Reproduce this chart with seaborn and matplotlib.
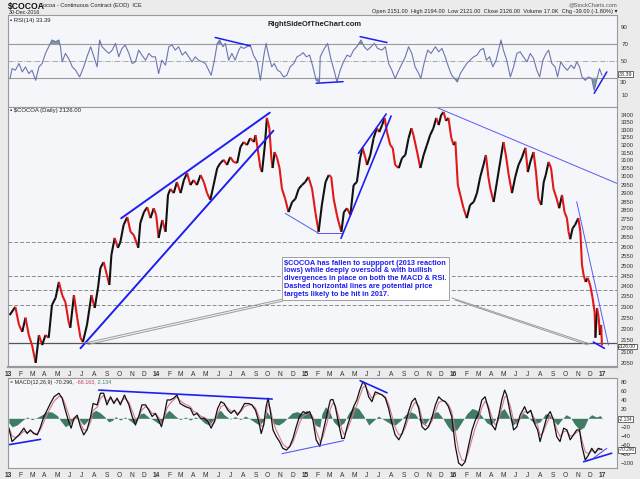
import numpy as np
import pandas as pd
import matplotlib
matplotlib.use('Agg')
import matplotlib.pyplot as plt
from matplotlib.collections import LineCollection
import seaborn as sns

# %%
# data (day = days since 2013-01-01)
price_day = [4, 18, 27, 35, 43, 51, 59, 68, 76, 84, 92, 100, 108, 117, 125, 133, 141, 149, 153, 162,
             170, 178, 184, 194, 205, 213, 221, 227, 235, 243, 249, 254, 262, 270, 276, 284, 293, 301, 309, 320,
             325, 334, 342, 350, 358, 364, 370, 379, 387, 393, 399, 407, 415, 424, 432, 440, 448, 456, 464, 473,
             481, 489, 497, 505, 514, 522, 530, 538, 546, 554, 563, 571, 579, 587, 595, 604, 608, 612, 620, 624,
             631, 636, 642, 647, 650, 655, 661, 667, 673, 681, 689, 698, 706, 714, 722, 730, 738, 747, 755, 763,
             771, 780, 788, 794, 800, 808, 812, 819, 825, 833, 841, 849, 857, 865, 871, 878, 882, 890, 898, 906,
             912, 919, 925, 931, 939, 945, 951, 960, 968, 976, 984, 991, 996, 1005, 1013, 1021, 1029, 1037, 1045, 1052,
             1058, 1064, 1070, 1076, 1082, 1089, 1095, 1099, 1105, 1111, 1119, 1127, 1135, 1144, 1152, 1160, 1168, 1174, 1180, 1185,
             1193, 1201, 1209, 1217, 1223, 1230, 1238, 1246, 1254, 1262, 1271, 1277, 1283, 1291, 1297, 1303, 1310, 1316, 1321, 1328,
             1334, 1340, 1348, 1354, 1361, 1367, 1373, 1377, 1381, 1387, 1393, 1401, 1406, 1410, 1414, 1419, 1424, 1430, 1436, 1441,
             1443, 1447, 1451, 1454, 1457, 1459]
price_close = [2262, 2300, 2217, 2186, 2250, 2172, 2128, 2052, 2172, 2128, 2172, 2160, 2309, 2343, 2420, 2356, 2322, 2230, 2204, 2356,
               2250, 2160, 2141, 2217, 2356, 2295, 2390, 2490, 2520, 2454, 2405, 2557, 2647, 2594, 2625, 2718, 2762, 2680, 2663, 2594,
               2729, 2790, 2818, 2756, 2812, 2773, 2647, 2745, 2680, 2889, 2925, 2900, 2966, 2900, 2978, 3021, 2948, 2978, 2948, 3009,
               2966, 2900, 2860, 2948, 3052, 3084, 3103, 3071, 3121, 3090, 3084, 3186, 3218, 3198, 3243, 3218, 3264, 3198, 3052, 3027,
               3198, 3380, 3310, 3115, 3052, 3153, 3115, 3052, 2925, 2866, 2790, 2848, 2866, 2925, 2948, 2966, 2997, 2925, 2790, 2680,
               2831, 2966, 3009, 2997, 2866, 2773, 2735, 2680, 2790, 2812, 2773, 2948, 2966, 3115, 3180, 3115, 3071, 3134, 3243, 3310,
               3284, 3331, 3380, 3284, 3198, 3180, 3071, 3052, 3115, 3134, 3243, 3310, 3264, 3153, 3052, 3134, 3198, 3264, 3310, 3380,
               3331, 3400, 3421, 3360, 3380, 3243, 3198, 3220, 2948, 2889, 2812, 2756, 2831, 2848, 2900, 2997, 3071, 3134, 2997, 2925,
               2848, 2966, 3090, 3218, 3134, 3009, 2900, 2997, 3071, 3115, 3180, 3027, 3090, 3153, 3027, 2866, 2831, 2966, 3009, 3090,
               3052, 2925, 2866, 2812, 2889, 2790, 2756, 2680, 2640, 2700, 2718, 2756, 2680, 2505, 2454, 2420, 2440, 2405, 2343, 2276,
               2160, 2295, 2250, 2172, 2217, 2126]

rsi_day = [5, 10, 18, 27, 35, 43, 51, 59, 68, 76, 84, 92, 100, 108, 117, 125, 129, 133, 141, 149,
           158, 166, 176, 186, 194, 203, 211, 219, 225, 231, 239, 248, 256, 264, 272, 280, 288, 297, 305, 313,
           321, 329, 338, 346, 354, 362, 370, 378, 387, 395, 403, 411, 419, 428, 436, 444, 452, 460, 468, 477,
           485, 493, 499, 507, 514, 520, 528, 534, 542, 550, 558, 567, 572, 579, 587, 595, 603, 612, 620, 628,
           634, 640, 648, 654, 662, 669, 677, 685, 693, 702, 710, 718, 725, 733, 741, 749, 757, 765,
           767, 775, 785, 793, 802, 808, 816, 824, 833, 841, 849, 857, 867, 875, 883, 892, 900, 908, 919, 927,
           935, 943, 951, 960, 968, 976, 984, 992, 1000, 1009, 1014, 1022, 1031, 1039, 1050, 1058, 1066, 1074, 1082, 1090,
           1104, 1111, 1119, 1127, 1135, 1144, 1152, 1160, 1168, 1175, 1183, 1191, 1199, 1205, 1211, 1217, 1225, 1234, 1242, 1250,
           1258, 1266, 1275, 1283, 1291, 1299, 1306, 1314, 1322, 1328, 1336, 1344, 1350, 1358, 1366, 1374, 1383, 1391, 1397, 1404,
           1410, 1418, 1426, 1434, 1440, 1446, 1453, 1459]
rsi_val = [29, 41, 39, 47, 37, 43, 35, 39, 27, 43, 47, 59, 67, 75, 73, 75, 67, 49, 59, 53,
           43, 39, 31, 43, 55, 67, 55, 43, 75, 67, 63, 59, 63, 71, 55, 65, 69, 59, 47, 49,
           63, 57, 51, 59, 55, 55, 35, 51, 45, 67, 69, 63, 67, 57, 61, 55, 49, 55, 51, 49,
           47, 39, 33, 51, 71, 75, 67, 71, 51, 59, 51, 63, 67, 65, 67, 69, 57, 49, 27, 55,
           71, 57, 43, 47, 39, 37, 31, 33, 43, 47, 55, 57, 60, 55, 57, 43, 27, 25,
           55, 63, 71, 53, 37, 25, 39, 49, 57, 55, 63, 67, 75, 67, 63, 67, 71, 65, 63, 67,
           47, 39, 29, 39, 47, 55, 67, 59, 43, 35, 29, 47, 63, 59, 67, 61, 65, 55, 43, 33,
           25, 35, 41, 47, 51, 55, 57, 63, 65, 51, 55, 43, 51, 63, 75, 63, 51, 31, 43, 59,
           61, 55, 49, 59, 53, 39, 31, 51, 59, 63, 47, 43, 31, 49, 43, 39, 45, 41, 49, 43,
           31, 27, 31, 29, 15, 27, 41, 33]

macd_day = [2, 10, 18, 27, 39, 47, 55, 63, 72, 80, 88, 96, 104, 113, 125, 133, 141, 149, 155, 162,
            170, 178, 186, 194, 203, 209, 219, 227, 235, 243, 252, 260, 268, 276, 286, 297, 305, 313, 321, 329,
            338, 346, 354, 362, 370, 377, 383, 391, 399, 407, 415, 423, 436, 448, 456, 464, 473, 482, 491, 499,
            507, 515, 523, 531, 540, 548, 556, 564, 572, 581, 591, 599, 608, 616, 622, 628, 634, 639, 644, 651,
            659, 667, 675, 684, 692, 700, 708, 716, 725, 733, 741, 749, 757, 766,
            767, 775, 784, 792, 798, 804, 812, 820, 826, 833, 841, 849, 857, 864, 872, 878, 886, 894, 902, 910,
            919, 927, 935, 943, 951, 960, 968, 976, 984, 992, 1000, 1009, 1017, 1025, 1033, 1041, 1050, 1058, 1066, 1074,
            1082, 1090, 1099, 1107, 1115, 1123, 1131, 1140, 1148, 1156, 1164, 1172, 1180, 1189, 1197, 1205, 1213, 1220, 1225, 1234,
            1242, 1250, 1258, 1269, 1276, 1284, 1293, 1301, 1307, 1315, 1324, 1332, 1340, 1348, 1356, 1365, 1373, 1381, 1389, 1397,
            1404, 1410, 1418, 1426, 1434, 1442, 1450, 1459]
macd_val = [-22, -52, -45, -37, -22, -34, -26, -34, -37, -19, 4, 18, 33, 48, 56, 45, 18, -7, -22, 0,
            7, -19, -37, -26, 4, 33, 30, 56, 56, 30, 48, 33, 45, 30, 52, 30, 4, -15, 4, 30,
            30, 18, 4, 11, -4, -19, 4, 41, 41, 45, 52, 33, 26, 22, 7, 11, 0, 0, -7, -22,
            -7, 22, 37, 33, 18, 11, 18, 7, 18, 33, 33, 30, 18, -7, -34, -15, 26, 45, 18, -26,
            -41, -52, -67, -71, -63, -45, -19, 4, 15, 11, 15, -4, -48, -63,
            -59, -26, 11, 41, 42, 26, -11, -45, -45, -19, 4, 26, 41, 63, 82, 74, 48, 37, 59, 56,
            52, 45, 22, -11, -37, -48, -34, -11, 15, 37, 45, 22, -19, -26, -19, 0, 30, 48, 41, 37,
            26, 4, -63, -100, -106, -97, -63, -26, -4, 11, 41, 48, 22, -15, -26, 4, 41, 63, 52, 11,
            -26, -19, 7, 26, 11, 18, -11, -26, -52, -26, 4, 15, -4, -41, -52, -22, -26, -48, -37, -26,
            -26, -63, -93, -82, -67, -78, -67, -70]
signal_val = [-20, -39, -43, -39, -29, -32, -28, -32, -35, -25, -8, 8, 23, 38, 49, 47, 30, 8, -10, -4,
              3, -10, -26, -26, -8, 17, 25, 44, 51, 38, 44, 37, 42, 35, 45, 36, 17, -2, 2, 19,
              26, 21, 11, 11, 2, -11, -2, 24, 34, 41, 48, 39, 31, 26, 15, 13, 5, 2, -3, -14,
              -10, 9, 26, 30, 23, 16, 17, 11, 15, 26, 30, 30, 23, 5, -18, -16, 9, 31, 23, -6,
              -27, -42, -57, -65, -64, -53, -33, -11, 5, 9, 13, 3, -28, -49,
              -55, -38, -9, 21, 34, 29, 5, -25, -37, -26, -8, 12, 29, 49, 69, 72, 58, 45, 53, 55,
              53, 48, 32, 6, -20, -37, -35, -21, 1, 23, 36, 28, 0, -16, -18, -7, 15, 35, 39, 38,
              31, 15, -32, -73, -93, -95, -76, -46, -21, -2, 24, 38, 28, 2, -15, -4, 23, 47, 50, 27,
              -5, -13, -1, 15, 13, 16, 0, -16, -38, -31, -10, 5, 0, -25, -41, -30, -28, -40, -38, -31,
              -28, -49, -75, -79, -72, -76, -71, -68]

hist_day = [2, 10, 22, 35, 47, 59, 72, 84, 96, 108, 121, 129, 141, 153, 162, 170, 178, 186, 196, 204,
            215, 227, 239, 247, 256, 264, 276, 288, 301, 309, 317, 325, 333, 346, 358, 370, 378, 387, 395, 403,
            411, 423, 436, 448, 460, 473, 482, 493, 503, 514, 522, 531, 546, 558, 571, 583, 595, 608, 618, 628,
            636, 643, 653, 665, 677, 687, 698, 710, 722, 734, 744, 755, 766, 771, 780, 790, 800, 812, 825, 837,
            849, 861, 874, 886, 898, 910, 923, 939, 951, 964, 976, 988, 1000, 1013, 1023, 1033, 1045, 1055, 1066, 1078,
            1090, 1103, 1115, 1127, 1140, 1152, 1164, 1176, 1186, 1197, 1209, 1219, 1230, 1240, 1250, 1262, 1273, 1283, 1295, 1307,
            1320, 1330, 1340, 1350, 1360, 1371, 1381, 1391, 1404, 1415, 1426, 1434, 1445, 1455, 1461]
hist_val = [-10, -19, -15, -5, 3, -3, 2, 8, 15, 14, 6, -5, -19, -12, 2, 5, -6, -15, -5, 10,
            18, 12, 2, -8, -5, 4, -4, 3, -6, -12, -4, 10, 12, 2, -4, -12, -8, 10, 18, 12,
            5, -3, 3, -4, 3, -2, -10, -15, -5, 12, 18, 8, -2, 4, -3, 5, -2, -10, -15, -5,
            15, 5, -12, -15, -8, 2, 12, 15, 10, 18, 8, -15, -20, 10, 26, 15, -8, -19, -10, 12,
            26, 22, 5, -15, -5, 5, -3, -12, -15, -5, 8, 15, 10, -8, -15, -3, 12, 15, 3, -15,
            -30, -25, -8, 10, 22, 18, 5, -10, -15, -3, 15, 22, 5, -15, -8, 12, 8, -3, -12, -8,
            10, 8, -5, -15, -3, 8, 3, -12, -26, -20, 2, 8, 3, 6, -2]

# horizontal levels on the price panel
support_level = 2137
target_levels = [2625, 2450, 2380, 2310]

# blue trendlines: (days, values, width)
price_lines = [([278, 643], [2755, 3416], 1.4), ([178, 652], [2114, 3293], 1.4),
               ([681, 763], [2783, 2672], 0.7), ([759, 820], [2672, 2672], 0.7),
               ([818, 941], [2645, 3393], 1.2), ([861, 929], [3145, 3407], 1.2),
               ([1052, 1496], [3454, 2958], 0.7), ([1397, 1475], [2850, 2128], 0.7),
               ([1438, 1465], [2141, 2114], 1.2)]
rsi_lines = [([509, 595], [78, 68]), ([757, 823], [23.5, 25.4]),
             ([865, 931], [79, 72]), ([1440, 1471], [11.5, 37])]
macd_lines = [([2, 80], [-59, -47], 1.2), ([223, 649], [63, 43], 1.2),
              ([673, 824], [-79, -50], 0.8), ([865, 931], [84, 57], 1.2),
              ([1414, 1483], [-97, -78], 1.2), ([1438, 1471], [-89, -67], 0.8)]

note = ('$COCOA has fallen to suppport (2013 reaction\n'
        'lows) while deeply oversold & with bullish\n'
        'divergences in place on both the MACD & RSI.\n'
        'Dashed horizontal lines are potential price\n'
        'targets likely to be hit in 2017.')

# %%
sns.set_style('white')
plt.rcParams['font.family'] = ['Liberation Sans', 'DejaVu Sans']

bg = '#ebebeb'
panel = '#f5f6fa'
blue = '#1e1ef0'

fig = plt.figure(figsize=(6.4, 4.79), dpi=100, facecolor=bg)
W, H = 640, 479


def box(top, bottom):
    return [8 / W, 1 - bottom / H, 609 / W, (bottom - top) / H]


ax_rsi = fig.add_axes(box(15, 107))
ax_px = fig.add_axes(box(107, 367))
ax_macd = fig.add_axes(box(378, 468))

months = pd.date_range('2013-01-01', '2017-01-01', freq='MS')
month_days = (months - pd.Timestamp('2013-01-01')).days
month_lbl = [m.strftime('%y') if m.month == 1 else m.strftime('%b')[0] for m in months]

for ax in (ax_rsi, ax_px, ax_macd):
    ax.set_facecolor(panel)
    ax.set_xlim(1, 1496)
    ax.yaxis.tick_right()
    ax.tick_params(axis='y', labelsize=4.4, length=0, pad=3, colors='#333333')
    ax.set_xticks(month_days)
    for s in ax.spines.values():
        s.set_color('#9a9a9a')
        s.set_linewidth(0.8)
    ax.set_xlabel('')
    ax.set_ylabel('')

tag = dict(boxstyle='square,pad=0.08', fc='white', ec='#333333', lw=0.5)

# %%
# RSI panel
rsi_d = np.array(rsi_day)
rsi_v = np.array(rsi_val, dtype=float)
ax_rsi.axhline(70, color='#9a9a9a', lw=0.8)
ax_rsi.axhline(30, color='#9a9a9a', lw=0.8)
ax_rsi.axhline(50, color='#9a9a9a', lw=0.6, ls='-.')
ax_rsi.fill_between(rsi_d, rsi_v, 70, where=rsi_v > 70, interpolate=True, color='#7d9c98', lw=0)
ax_rsi.fill_between(rsi_d, rsi_v, 30, where=rsi_v < 30, interpolate=True, color='#7d9c98', lw=0)
sns.lineplot(x=rsi_d, y=rsi_v, ax=ax_rsi, color='#6b77ad', linewidth=0.8)
for d, v in rsi_lines:
    ax_rsi.plot(d, v, color=blue, lw=1.1)
ax_rsi.set_ylim(-4.8, 104.8)
ax_rsi.set_yticks([10, 50, 70, 90])
ax_rsi.tick_params(axis='x', length=0, labelbottom=False)
ax_rsi.text(1.003, 34.5, '33.39', transform=ax_rsi.get_yaxis_transform(), fontsize=3.8,
            va='center', ha='left', bbox=tag)
ax_rsi.text(1.005, 24.5, '30', transform=ax_rsi.get_yaxis_transform(), fontsize=4.4,
            va='center', ha='left', color='#333333')
ax_rsi.text(0.004, 0.94, '\u25aa RSI(14) 33.39', transform=ax_rsi.transAxes, fontsize=4.2, va='center', color='#222222')

# %%
# price panel
ax_px.set_yscale('log')
ax_px.set_ylim(2035, 3456)
px_ticks = list(range(2050, 3401, 50))
ax_px.set_yticks(px_ticks)
ax_px.set_yticklabels([str(t) for t in px_ticks])
ax_px.yaxis.set_minor_locator(matplotlib.ticker.NullLocator())
ax_px.tick_params(axis='y', labelsize=4.2)
ax_px.axhline(support_level, color='#555555', lw=0.9)
for lv in target_levels:
    ax_px.axhline(lv, color='#8a8a8a', lw=0.7, ls=(0, (4, 2)))

pts = np.column_stack([price_day, price_close]).astype(float)
segs = np.stack([pts[:-1], pts[1:]], axis=1)
seg_col = ['#111111' if b >= a else '#e01818' for a, b in zip(price_close[:-1], price_close[1:])]
ax_px.add_collection(LineCollection(segs, colors=seg_col, linewidths=1.5))

for d, v, w in price_lines:
    ax_px.plot(d, v, color=blue if w > 1 else '#5a5af5', lw=w)

# callout lines + note
for (x0, y0, x1, y1) in [(0.4516, 0.2615, 0.1264, 0.0923), (0.4516, 0.2538, 0.1314, 0.0865),
                         (0.729, 0.2654, 0.9557, 0.0885), (0.734, 0.2577, 0.9524, 0.0846)]:
    ax_px.plot([x0, x1], [y0, y1], transform=ax_px.transAxes, color='#9a9a9a', lw=0.7)
ax_px.text(0.4535, 0.413, note, transform=ax_px.transAxes, fontsize=5.35, weight='bold', color=blue,
           va='top', ha='left', linespacing=1.17,
           bbox=dict(boxstyle='square,pad=0.3', fc='white', ec='#a0a0a0', lw=0.7))

ax_px.text(1.002, 2122, '2126.00', transform=ax_px.get_yaxis_transform(), fontsize=3.6,
           va='center', ha='left', bbox=tag, zorder=5)
ax_px.text(0.004, 0.985, '\u25aa $COCOA (Daily) 2126.00', transform=ax_px.transAxes, fontsize=4.3,
           va='center', color='#222222')
ax_px.set_xticklabels(month_lbl)
ax_px.tick_params(axis='x', labelsize=4.8, length=2, pad=1, colors='#333333')
ax_px.spines['bottom'].set_linewidth(1.6)

# %%
# MACD panel
ax_macd.fill_between(hist_day, hist_val, 0, color='#3f7c66', lw=0)
sns.lineplot(x=macd_day, y=signal_val, ax=ax_macd, color='#d9788a', linewidth=0.8)
sns.lineplot(x=macd_day, y=macd_val, ax=ax_macd, color='#111111', linewidth=0.9)
for d, v, w in macd_lines:
    ax_macd.plot(d, v, color=blue if w > 1 else '#5a5af5', lw=w)
ax_macd.set_ylim(-111, 90)
ax_macd.set_yticks([t for t in range(-100, 81, 20) if t != 0])
ax_macd.tick_params(axis='y', labelsize=4.2)
ax_macd.set_xticklabels(month_lbl)
ax_macd.tick_params(axis='x', labelsize=4.8, length=2, pad=1, colors='#333333')
for lv, txt in [(-2.134, '-2.134'), (-70.296, '-70.296')]:
    ax_macd.text(1.003, lv, txt, transform=ax_macd.get_yaxis_transform(), fontsize=3.4,
                 va='center', ha='left', bbox=tag, zorder=5)
t1 = ax_macd.text(0.004, 0.955, '= MACD(12,26,9) -70.296, ', transform=ax_macd.transAxes,
                  fontsize=3.9, va='center', color='#222222')
t2 = ax_macd.annotate('-68.163, ', xy=(1, 0.5), xycoords=t1, va='center', ha='left',
                      fontsize=3.9, color='#c0394f')
ax_macd.annotate('-2.134', xy=(1, 0.5), xycoords=t2, va='center', ha='left',
                 fontsize=3.9, color='#3f7c66')

for ax in (ax_px, ax_macd):
    for lbl, t in zip(ax.get_xticklabels(), month_lbl):
        if t.isdigit():
            lbl.set_fontweight('bold')

# %%
# header
fig.text(8 / W, 1 - 6 / H, '$COCOA', fontsize=6.2, weight='bold', va='center', color='#111111')
fig.text(39 / W, 1 - 6 / H, 'Cocoa - Continuous Contract (EOD)  ICE', fontsize=4.1, va='center', color='#222222')
fig.text(9 / W, 1 - 12 / H, '30-Dec-2016', fontsize=3.9, va='center', color='#222222')
fig.text(617 / W, 1 - 5 / H, '@StockCharts.com', fontsize=4.1, va='center', ha='right', color='#555555')
fig.text(617 / W, 1 - 12 / H,
         'Open 2151.00  High 2194.00  Low 2121.00  Close 2126.00  Volume 17.0K  Chg -39.00 (-1.80%) \u25be',
         fontsize=4.1, va='center', ha='right', color='#222222')
fig.text(267 / W, 1 - 24 / H, 'RightSideOfTheChart.com', fontsize=5.4, weight='bold', va='center', color='#222222')

plt.savefig('out.png', dpi=100, facecolor=bg)
